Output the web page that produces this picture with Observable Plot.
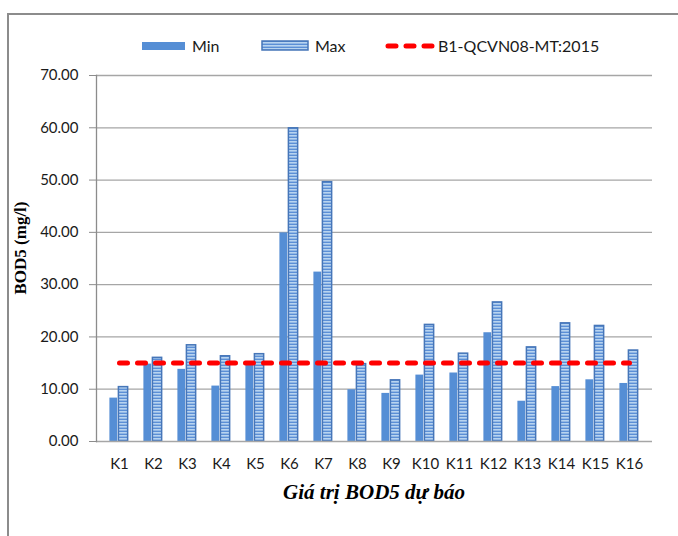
<!DOCTYPE html>
<html>
<head>
<meta charset="utf-8">
<script src="https://cdn.jsdelivr.net/npm/d3@7"></script>
<script src="https://cdn.jsdelivr.net/npm/@observablehq/plot@0.6"></script>
<style>
  html, body { margin: 0; padding: 0; background: #fff; }
  body { width: 678px; height: 536px; position: relative; overflow: hidden; font-family: Lato, "Open Sans", sans-serif; }
  #frame { position: absolute; left: 7px; top: 13px; width: 720px; height: 600px; border-left: 2px solid #8c8c8c; border-top: 2px solid #8c8c8c; box-sizing: border-box; z-index: 5; pointer-events: none; }
  #legend { position: absolute; left: 0; top: 0; width: 678px; height: 60px; }
  .lg { position: absolute; font-size: 16px; color: #1a1a1a; line-height: 20px; top: 36px; }
  .sw { position: absolute; }
  #chart { position: absolute; left: 0; top: 60px; }
  #ytitle { position: absolute; left: 21px; top: 248px; transform: translate(-50%, -50%) rotate(-90deg); font-family: "Liberation Serif", "DejaVu Serif", serif; font-weight: bold; font-size: 17px; white-space: nowrap; color: #000; }
  #xtitle { position: absolute; left: 374px; top: 492px; transform: translate(-50%, -50%); font-family: "Liberation Serif", "DejaVu Serif", serif; font-weight: bold; font-style: italic; font-size: 21px; white-space: nowrap; color: #000; }
</style>
</head>
<body>
<div id="frame"></div>
<div id="legend">
  <svg class="sw" style="left:142px; top:40px" width="44" height="12">
    <rect x="0" y="2" width="43" height="8" fill="#558ED5"></rect>
  </svg>
  <span class="lg" style="left:192px">Min</span>
  <svg class="sw" style="left:261px; top:39px" width="50" height="14">
    <defs>
      <pattern id="legStripes" width="4" height="3" patternUnits="userSpaceOnUse">
        <rect width="4" height="3" fill="#5b8fd6"></rect>
        <rect width="4" height="1.6" fill="#b8d4f0"></rect>
      </pattern>
    </defs>
    <rect x="1" y="2" width="46" height="9" fill="url(#legStripes)" stroke="#4676b8" stroke-width="1.5"></rect>
  </svg>
  <span class="lg" style="left:315px">Max</span>
  <svg class="sw" style="left:384px; top:40px" width="52" height="12">
    <line x1="4" x2="48" y1="6" y2="6" stroke="#ff0000" stroke-width="5" stroke-dasharray="8,10" stroke-linecap="round"></line>
  </svg>
  <span class="lg" style="left:438px">B1-QCVN08-MT:2015</span>
</div>
<div id="chart"></div>
<div id="ytitle">BOD5 (mg/l)</div>
<div id="xtitle">Giá trị BOD5 dự báo</div>
<script>
const categories = ["K1","K2","K3","K4","K5","K6","K7","K8","K9","K10","K11","K12","K13","K14","K15","K16"];
const minValues = [8.3, 14.8, 13.8, 10.6, 14.8, 39.9, 32.4, 9.9, 9.2, 12.7, 13.1, 20.8, 7.7, 10.5, 11.8, 11.1];
const maxValues = [10.4, 16.0, 18.4, 16.3, 16.7, 59.9, 49.6, 14.8, 11.7, 22.3, 16.8, 26.6, 18.0, 22.6, 22.1, 17.4];
const limitValues = [15, 15, 15, 15, 15, 15, 15, 15, 15, 15, 15, 15, 15, 15, 15, 15];
const yTicks = [0, 10, 20, 30, 40, 50, 60, 70];

const minData = categories.map((c, i) => ({cat: c, v: minValues[i]}));
const maxData = categories.map((c, i) => ({cat: c, v: maxValues[i]}));
const limData = categories.map((c, i) => ({cat: c, v: limitValues[i]}));

const plot = Plot.plot({
  width: 678,
  height: 420,
  marginTop: 15,
  marginLeft: 96,
  marginRight: 26,
  marginBottom: 39,
  style: {fontFamily: "Lato, 'Open Sans', sans-serif", fontSize: "15px", color: "#1a1a1a", background: "transparent"},
  x: {domain: categories, padding: 0, label: null, tickSize: 0, tickPadding: 17},
  y: {domain: [0, 70], ticks: yTicks, tickFormat: d3.format(".2f"), label: null, tickSize: 7, tickPadding: 11},
  marks: [
    Plot.ruleY(yTicks.filter(d => d > 0), {stroke: "#a6a6a6", strokeWidth: 1.3}),
    Plot.barY(minData, {x: "cat", y: "v", fill: "#558ED5", insetLeft: 7.4, insetRight: 18.85}),
    Plot.barY(maxData, {x: "cat", y: "v", fill: "url(#bodStripes)", stroke: "#4676b8", strokeWidth: 1.5, insetLeft: 16.4, insetRight: 8.35, className: "maxbars"}),
    Plot.lineY(limData, {x: "cat", y: "v", stroke: "#ff0000", strokeWidth: 5, strokeDasharray: "8,10", strokeLinecap: "round"}),
    Plot.ruleY([0], {stroke: "#a6a6a6", strokeWidth: 1.3}),
    Plot.frame({anchor: "left", stroke: "#8c8c8c", strokeWidth: 1.3})
  ]
});

const svg = d3.select(plot);
svg.insert("defs", ":first-child").html(
  '<pattern id="bodStripes" width="4" height="3" patternUnits="userSpaceOnUse">' +
  '<rect width="4" height="3" fill="#5b8fd6"></rect>' +
  '<rect width="4" height="1.6" fill="#b8d4f0"></rect></pattern>'
);
svg.selectAll(".maxbars rect").attr("fill", "url(#bodStripes)");
svg.selectAll("g[aria-label='y-axis tick'] path, g[aria-label='y-axis tick'] line").attr("stroke", "#8c8c8c");

document.getElementById("chart").appendChild(plot);
</script>
</body>
</html>
